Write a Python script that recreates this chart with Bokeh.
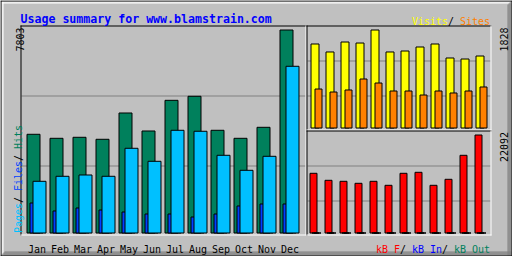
import numpy as np
from bokeh.plotting import figure
from bokeh.models import Range1d
from bokeh.core.properties import value
from bokeh.embed import file_html
from bokeh.resources import INLINE

# ---------------- data ----------------
months = ["Jan", "Feb", "Mar", "Apr", "May", "Jun",
          "Jul", "Aug", "Sep", "Oct", "Nov", "Dec"]
hits = [3794, 3640, 3679, 3602, 4613, 3921, 5100, 5255, 3948, 3640, 4063, 7803]
files = [1153, 846, 961, 884, 807, 730, 730, 615, 730, 1038, 1115, 1115]
pages = [1987, 2180, 2230, 2180, 3256, 2756, 3948, 3910, 2987, 2410, 2948, 6408]
visits = [1567, 1418, 1604, 1585, 1828, 1418, 1436, 1511, 1567, 1306, 1287, 1343]
sites = [727, 671, 709, 914, 839, 690, 690, 615, 690, 653, 690, 765]
kb_f = [13457, 11880, 11654, 11203, 11654, 10753, 13457, 13683, 10753, 12105, 17516, 22092]
kb_in = [0, 0, 0, 0, 0, 0, 0, 0, 0, 0, 0, 0]
kb_out = [0, 0, 0, 0, 0, 0, 0, 0, 0, 0, 0, 0]
title_text = "Usage summary for www.blamstrain.com"

# ---------------- style ----------------
W, H = 512, 256
BG = "#C0C0C0"
DK = "#808080"
C_HITS, C_FILES, C_PAGES = "#00805C", "#0040FF", "#00C0FF"
C_VISITS, C_SITES = "#FFFF00", "#FF8000"
C_KBF, C_KBIN, C_KBOUT = "#FF0000", "#0000FF", "#00805C"
MONO = value("DejaVu Sans Mono")

p = figure(width=W, height=H, x_range=Range1d(0, W), y_range=Range1d(H, 0),
           output_backend="svg", toolbar_location=None,
           x_axis_type=None, y_axis_type=None, min_border=0,
           outline_line_color=None, background_fill_color=BG,
           border_fill_color=BG)


def lin_range(p0, v0, p1, v1, total):
    scale = (v1 - v0) / (p1 - p0)
    start = v0 - p0 * scale
    return Range1d(start, start + total * scale)


# panel scales (pixel anchors -> data)
p.extra_x_ranges = {
    "mx": lin_range(33, 0, 33 + 23, 1, W),        # main panel months
    "sx": lin_range(314.5, 0, 314.5 + 15, 1, W),  # right panels months
}
p.extra_y_ranges = {
    "my": lin_range(H - 232.5, 0, H - 29.5, max(hits), H),
    "ty": lin_range(H - 127.5, 0, H - 29.5, max(visits), H),
    "by": lin_range(H - 232.5, 0, H - 134.5, max(kb_f), H),
}


def seg(x0, y0, x1, y1, color):
    p.segment(x0=[x0], y0=[y0], x1=[x1], y1=[y1], line_color=color, line_width=1)


# outer bevelled border
for i in (1, 2):
    seg(1, i + 0.5, W - 1, i + 0.5, "white")
    seg(i + 0.5, 1, i + 0.5, H - 1, "white")
for i in (1, 2, 3, 4):
    seg(i, H - 1 - i + 0.5, W - 1, H - 1 - i + 0.5, DK)
    seg(W - 1 - i + 0.5, i, W - 1 - i + 0.5, H - 1, DK)
seg(0, 0.5, W, 0.5, "black")
seg(0, H - 0.5, W, H - 0.5, "black")
seg(0.5, 0, 0.5, H, "black")
seg(W - 0.5, 0, W - 0.5, H, "black")


def panel(x0, y0, x1, y1, grid_rows):
    for gy in grid_rows:
        seg(x0 + 1, gy + 0.5, x1, gy + 0.5, DK)
    seg(x0, y0 + 0.5, x1 + 1, y0 + 0.5, "black")
    seg(x0 + 0.5, y0, x0 + 0.5, y1 + 1, "black")
    seg(x0, y1 + 0.5, x1 + 1, y1 + 0.5, "white")
    seg(x1 + 0.5, y0, x1 + 0.5, y1 + 1, "white")


panel(20, 25, 305, 234, [95, 165])
panel(306, 25, 490, 129, [60, 95])
panel(306, 130, 490, 234, [165, 200])

x = np.arange(len(months))

# main panel bars
p.vbar(x=x, width=13 / 23, top=hits, bottom=0, x_range_name="mx", y_range_name="my",
       fill_color=C_HITS, line_color="black")
p.vbar(x=x + 3 / 23, width=13 / 23, top=files, bottom=0, x_range_name="mx", y_range_name="my",
       fill_color=C_FILES, line_color="black")
p.vbar(x=x + 6 / 23, width=13 / 23, top=pages, bottom=0, x_range_name="mx", y_range_name="my",
       fill_color=C_PAGES, line_color="black")

# visits / sites
p.vbar(x=x, width=8 / 15, top=visits, bottom=0, x_range_name="sx", y_range_name="ty",
       fill_color=C_VISITS, line_color="black")
p.vbar(x=x + 3.5 / 15, width=7 / 15, top=sites, bottom=0, x_range_name="sx", y_range_name="ty",
       fill_color=C_SITES, line_color="black")

# kbytes
p.vbar(x=x - 1.5 / 15, width=7 / 15, top=kb_f, bottom=0, x_range_name="sx", y_range_name="by",
       fill_color=C_KBF, line_color="black")
p.vbar(x=x + 0.5 / 15, width=7 / 15, top=kb_in, bottom=0, x_range_name="sx", y_range_name="by",
       fill_color=C_KBIN, line_color="black")
p.vbar(x=x + 2.5 / 15, width=7 / 15, top=kb_out, bottom=0, x_range_name="sx", y_range_name="by",
       fill_color=C_KBOUT, line_color="black")


def label(x, y, s, color, size="10px", angle=0.0, align="left", bold=False, **kw):
    p.text(x=[x], y=[y], text=[s], text_color=color, text_font=MONO,
           text_font_size=value(size), angle=angle, text_align=align,
           text_baseline="alphabetic", text_font_style="bold" if bold else "normal", **kw)


# month labels
p.text(x=x + 3.5 / 23, y=[249] * len(months), text=months, x_range_name="mx",
       text_color="black", text_font=MONO, text_font_size=value("10px"),
       text_align="center", text_baseline="alphabetic")

# title and legends
label(20, 18.5, title_text, "#0000FF", size="11.6px", bold=True)
label(411.5, 20.5, "Visits", C_VISITS)
label(447.5, 20.5, "/", "black")
label(459.5, 20.5, "Sites", C_SITES)
label(375.5, 249, "kB F", C_KBF)
label(399.5, 249, "/", "black")
label(411.5, 249, "kB In", C_KBIN)
label(441.5, 249, "/", "black")
label(453.5, 249, "kB Out", C_KBOUT)

# vertical legend and max values
A = np.pi / 2
label(17.5, 232.5, "Pages", C_PAGES, angle=A)
label(17.5, 202.5, "/", "black", angle=A)
label(17.5, 190.5, "Files", C_FILES, angle=A)
label(17.5, 160.5, "/", "black", angle=A)
label(17.5, 148.5, "Hits", C_HITS, angle=A)
label(19, 27, str(max(hits)), "black", angle=A, align="right")
label(503.5, 27, str(max(visits)), "black", angle=A, align="right")
label(503.5, 131.5, str(max(kb_f)), "black", angle=A, align="right")

open("out.html", "w").write(file_html(p, INLINE))
